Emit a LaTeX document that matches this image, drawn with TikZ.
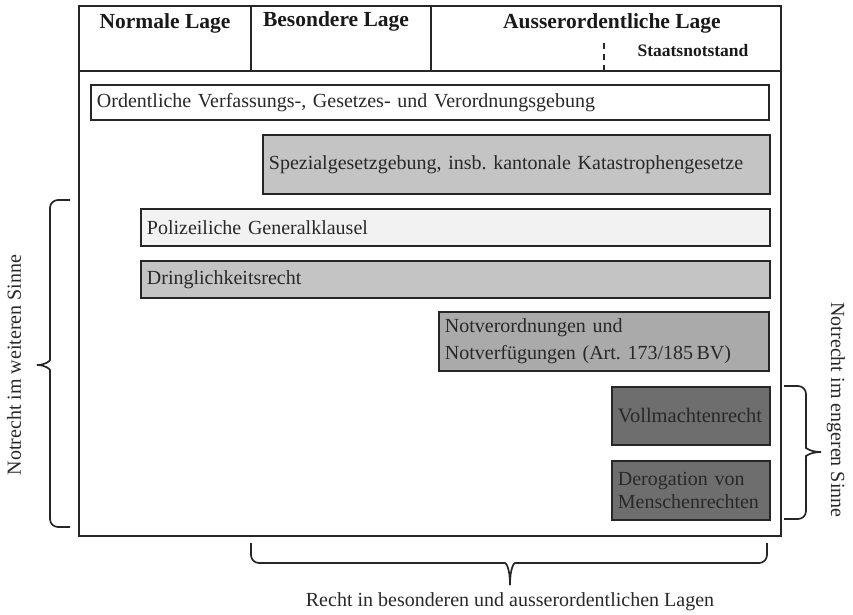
\documentclass[tikz,border=0pt]{standalone}
\usepackage{fontspec}
\setmainfont{Liberation Serif}
\definecolor{txt}{RGB}{40,40,40}
\definecolor{fwhite}{RGB}{255,255,255}
\definecolor{flight}{RGB}{242,242,242}
\definecolor{fmid}{RGB}{196,196,196}
\definecolor{fmiddark}{RGB}{170,170,170}
\definecolor{fdark}{RGB}{110,110,110}
\tikzset{
  frame/.style={draw=black!85, line width=1.8pt},
  lbox/.style={draw=black!85, line width=1.8pt, anchor=north west, inner xsep=6pt, inner ysep=0pt, align=left, text=txt, font=\frenchspacing\fontsize{20}{27}\selectfont},
  head/.style={font=\bfseries\fontsize{21.5}{24}\selectfont, text=black!90},
  brc/.style={draw=black!85, line width=1.7pt, rounded corners=8pt},
  lbl/.style={font=\fontsize{20}{24}\selectfont, text=txt}
}
\begin{document}
\begin{tikzpicture}[x=1pt,y=-1pt]
\useasboundingbox (0,0) rectangle (853,614);
% frame
\draw[frame] (79,6) rectangle (781,536);
\draw[frame] (79,71) -- (781,71);
\draw[frame] (251,6) -- (251,71);
\draw[frame] (431,6) -- (431,71);
\draw[black!85, line width=1.5pt, dash pattern=on 6pt off 5pt] (604,43) -- (604,71);
% headers
\node[head] (h1) at (165,23) {Normale Lage};
\node[head] (h2) at (336,21) {Besondere Lage};
\node[head] (h3) at (612,23) {Ausserordentliche Lage};
\node[head, font=\bfseries\fontsize{17.5}{20}\selectfont] (h4) at (693,51) {Staatsnotstand};
% boxes
\node[lbox, fill=fwhite, text width=666pt, minimum height=35pt] (b1) at (90,84) {Ordentliche Verfassungs-, Gesetzes- und Verordnungsgebung};
\node[lbox, fill=fmid, text width=495pt, minimum height=59pt] (b2) at (262,134) {Spezialgesetzgebung, insb. kantonale Katastrophengesetze};
\node[lbox, fill=flight, text width=617pt, minimum height=37pt] (b3) at (140,208) {Polizeiliche Generalklausel};
\node[lbox, fill=fmid, text width=617pt, minimum height=37pt] (b4) at (140,260) {Dringlichkeitsrecht};
\node[lbox, fill=fmiddark, text width=318pt, minimum height=59pt] (b5) at (438,311) {Notverordnungen und\\Notverfügungen (Art. 173/185\,BV)};
\node[lbox, fill=fdark, text width=146pt, minimum height=58pt, font=\fontsize{20.5}{24}\selectfont] (b6) at (611,386) {Vollmachtenrecht};
\node[lbox, fill=fdark, text width=146pt, minimum height=59pt, font=\fontsize{20}{23}\selectfont] (b7) at (611,460) {Derogation von\\Menschenrechten};
% left brace
\draw[brc] (70,200) -- (50,200) -- (50,352) [sharp corners] .. controls (50,361) and (45,365) .. (37,365);
\draw[brc] (70,527) -- (50,527) -- (50,378) [sharp corners] .. controls (50,369) and (45,365) .. (37,365);
% right brace
\draw[brc] (784,386) -- (806,386) -- (806,440) [sharp corners] .. controls (806,448) and (811,452) .. (821,452);
\draw[brc] (784,519) -- (806,519) -- (806,464) [sharp corners] .. controls (806,456) and (811,452) .. (821,452);
% bottom brace
\draw[brc] (251,543) -- (251,563) -- (497,563) [sharp corners] .. controls (506,563) and (510,568) .. (510,585);
\draw[brc] (767,543) -- (767,563) -- (523,563) [sharp corners] .. controls (514,563) and (510,568) .. (510,585);
% labels
\node[lbl, rotate=90] (ll) at (14,365) {Notrecht im weiteren Sinne};
\node[lbl, rotate=-90] (rl) at (836,410) {Notrecht im engeren Sinne};
\node[lbl] (bl) at (510,602) {Recht in besonderen und ausserordentlichen Lagen};
\end{tikzpicture}
\end{document}
